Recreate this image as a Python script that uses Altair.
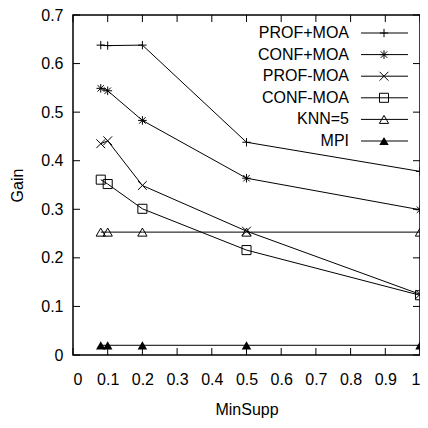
import altair as alt
import pandas as pd

series = ["PROF+MOA", "CONF+MOA", "PROF-MOA", "CONF-MOA", "KNN=5", "MPI"]
minsupp = [0.08, 0.1, 0.2, 0.5, 1.0]
prof_moa = [0.638, 0.637, 0.638, 0.438, 0.378]
conf_moa = [0.549, 0.544, 0.483, 0.364, 0.299]
prof_nomoa = [0.435, 0.441, 0.349, 0.255, 0.125]
conf_nomoa = [0.361, 0.352, 0.301, 0.216, 0.123]
knn5 = [0.253, 0.253, 0.253, 0.253, 0.253]
mpi = [0.02, 0.02, 0.02, 0.02, 0.02]
x_ticks = [0, 0.1, 0.2, 0.3, 0.4, 0.5, 0.6, 0.7, 0.8, 0.9, 1.0]
y_ticks = [0, 0.1, 0.2, 0.3, 0.4, 0.5, 0.6, 0.7]

values = [prof_moa, conf_moa, prof_nomoa, conf_nomoa, knn5, mpi]
rows = []
for s, vals in zip(series, values):
    for xv, yv in zip(minsupp, vals):
        rows.append({"series": s, "MinSupp": xv, "Gain": yv})
df = pd.DataFrame(rows)

PL, PT = 65, 7
W, H = 347, 340
FONT = "Liberation Sans, Arial, sans-serif"
FS = 16

plus = "M-1,0L1,0M0,-1L0,1"
star = "M-1,0L1,0M0,-1L0,1M-0.75,-0.75L0.75,0.75M-0.75,0.75L0.75,-0.75"
xmark = "M-1,-1L1,1M-1,1L1,-1"
shape_scale = alt.Scale(domain=series, range=[plus, star, xmark, "square", "triangle-up", "triangle-up"])
size_scale = alt.Scale(domain=series, range=[70, 90, 64, 90, 60, 60])

xs = alt.Scale(domain=[0, 1], nice=False, zero=False)
ys = alt.Scale(domain=[0, 0.7], nice=False)
x_axis = alt.Axis(values=x_ticks, format="~g", ticks=False, domain=False, grid=False,
                  labelOverlap=False, labelBaseline="alphabetic", labelPadding=29,
                  title="MinSupp", titleBaseline="alphabetic", titleY=59)
y_axis = alt.Axis(values=y_ticks, format="~g", ticks=False, domain=False, grid=False,
                  labelOverlap=False, labelPadding=10,
                  title="Gain", titleX=-56, titleY=H / 2, titleBaseline="middle")

base = alt.Chart(df)
X = alt.X("MinSupp:Q", scale=xs, axis=x_axis, title="MinSupp")
Y = alt.Y("Gain:Q", scale=ys, axis=y_axis, title="Gain")
lines = base.mark_line(color="black", strokeWidth=1).encode(x=X, y=Y, detail="series:N")
pts_open = base.mark_point(filled=False, color="black", strokeWidth=1, opacity=1).encode(
    x=X, y=Y,
    shape=alt.Shape("series:N", scale=shape_scale, legend=None),
    size=alt.Size("series:N", scale=size_scale, legend=None),
).transform_filter(alt.datum.series != "MPI")
pts_fill = base.mark_point(filled=True, color="black", opacity=1).encode(
    x=X, y=Y,
    shape=alt.Shape("series:N", scale=shape_scale, legend=None),
    size=alt.Size("series:N", scale=size_scale, legend=None),
).transform_filter(alt.datum.series == "MPI")

xt = pd.DataFrame({"MinSupp": x_ticks})
yt = pd.DataFrame({"Gain": y_ticks})
tick_layers = [
    alt.Chart(xt).mark_rule(color="black", strokeWidth=1).encode(x=X, y=alt.value(H), y2=alt.value(H - 7)),
    alt.Chart(xt).mark_rule(color="black", strokeWidth=1).encode(x=X, y=alt.value(0), y2=alt.value(7)),
    alt.Chart(yt).mark_rule(color="black", strokeWidth=1).encode(y=Y, x=alt.value(0), x2=alt.value(7)),
    alt.Chart(yt).mark_rule(color="black", strokeWidth=1).encode(y=Y, x=alt.value(W - 7), x2=alt.value(W)),
]

# legend positions in absolute page pixels, converted to plot coordinates
ox, oy = 8 + PL, 8 + PT
legend_df = pd.DataFrame({"series": series})
legend_layers = []
for i, s in enumerate(series):
    yy = 33 + 21.6 * i - oy
    ld = alt.Chart(legend_df).transform_filter(alt.datum.series == s)
    legend_layers.append(ld.mark_text(align="right", baseline="middle", font=FONT, fontSize=FS, color="black")
                         .encode(text="series:N", x=alt.value(349 - ox), y=alt.value(yy)))
    legend_layers.append(ld.mark_rule(color="black", strokeWidth=1)
                         .encode(x=alt.value(361 - ox), x2=alt.value(408 - ox), y=alt.value(yy)))
    legend_layers.append(ld.mark_point(filled=(s == "MPI"), color="black", strokeWidth=1, opacity=1)
                         .encode(x=alt.value(384 - ox), y=alt.value(yy),
                                 shape=alt.Shape("series:N", scale=shape_scale, legend=None),
                                 size=alt.Size("series:N", scale=size_scale, legend=None)))

chart = alt.layer(lines, pts_open, pts_fill, *tick_layers, *legend_layers).properties(
    width=W, height=H,
    autosize=alt.AutoSizeParams(type="none"),
    padding={"left": PL, "top": PT, "right": 0, "bottom": 65},
    background="white",
).configure_view(stroke="black", strokeWidth=1.5).configure_axis(
    labelFont=FONT, labelFontSize=FS, labelColor="black",
    titleFont=FONT, titleFontSize=FS, titleColor="black", titleFontWeight="normal",
)

chart.save("out.html", embed_options={"renderer": "svg", "actions": False})
